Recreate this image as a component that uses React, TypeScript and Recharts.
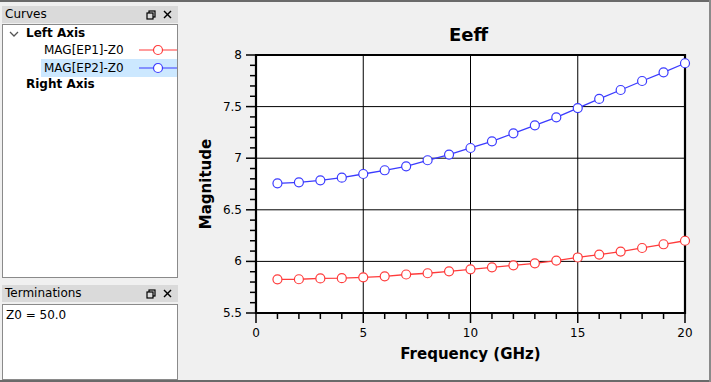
import { LineChart, Line, XAxis, YAxis, CartesianGrid, ReferenceLine, ReferenceArea, Label } from "recharts";

const freqs = [1, 2, 3, 4, 5, 6, 7, 8, 9, 10, 11, 12, 13, 14, 15, 16, 17, 18, 19, 20];
const ep1 = [5.826, 5.827, 5.835, 5.837, 5.846, 5.855, 5.873, 5.885, 5.904, 5.923, 5.943, 5.962, 5.981, 6.008, 6.038, 6.066, 6.095, 6.13, 6.166, 6.2];
const ep2 = [6.757, 6.766, 6.786, 6.811, 6.847, 6.883, 6.921, 6.98, 7.035, 7.099, 7.164, 7.241, 7.319, 7.396, 7.486, 7.574, 7.661, 7.748, 7.832, 7.92];

const xTicks = [0, 1, 2, 3, 4, 5, 6, 7, 8, 9, 10, 11, 12, 13, 14, 15, 16, 17, 18, 19, 20];
const xMajor = [0, 5, 10, 15, 20];
const yTicks = [5.5, 5.6, 5.7, 5.8, 5.9, 6, 6.1, 6.2, 6.3, 6.4, 6.5, 6.6, 6.7, 6.8, 6.9, 7, 7.1, 7.2, 7.3, 7.4, 7.5, 7.6, 7.7, 7.8, 7.9, 8];
const yMajor = [5.5, 6, 6.5, 7, 7.5, 8];
const yGrid = [6, 6.5, 7, 7.5];
const xGrid = [5, 10, 15];

const data = freqs.map((f, i) => ({ f, ep1: ep1[i], ep2: ep2[i] }));

const RED = "#ff3b3b";
const BLUE = "#3b3bff";
const UI_FONT = "Tahoma, 'DejaVu Sans', sans-serif";

function isMajor(list: number[], v: number) {
  return list.some((m) => Math.abs(m - v) < 1e-6);
}

function XTick({ x, y, payload }: any) {
  const major = isMajor(xMajor, payload.value);
  return (
    <g>
      <line x1={x} x2={x} y1={y} y2={y + (major ? 10 : 6)} stroke="#000" strokeWidth={1.5} />
      {major && (
        <text x={x} y={y + 24} textAnchor="middle" fontSize={12} fill="#000" fontFamily={UI_FONT}>
          {payload.value}
        </text>
      )}
    </g>
  );
}

function YTick({ x, y, payload }: any) {
  const major = isMajor(yMajor, payload.value);
  return (
    <g>
      <line x1={x - (major ? 10 : 6)} x2={x} y1={y} y2={y} stroke="#000" strokeWidth={1.5} />
      {major && (
        <text x={x - 14} y={y + 4} textAnchor="end" fontSize={12} fill="#000" fontFamily={UI_FONT}>
          {payload.value}
        </text>
      )}
    </g>
  );
}

function PanelHeader({ title, top }: { title: string; top: number }) {
  return (
    <div
      style={{
        position: "absolute",
        left: 2,
        top,
        width: 176,
        height: 17,
        background: "#dadada",
        fontSize: 12,
        lineHeight: "17px",
        paddingLeft: 3,
        boxSizing: "border-box",
        color: "#000",
      }}
    >
      {title}
      <svg width={30} height={17} style={{ position: "absolute", right: 3, top: 0 }}>
        <rect x={4} y={5} width={6} height={6} fill="none" stroke="#000" strokeWidth={1.2} />
        <rect x={2} y={7} width={6} height={6} fill="#dadada" stroke="#000" strokeWidth={1.2} />
        <line x1={19} y1={5} x2={26} y2={12} stroke="#000" strokeWidth={1.4} />
        <line x1={26} y1={5} x2={19} y2={12} stroke="#000" strokeWidth={1.4} />
      </svg>
    </div>
  );
}

function LegendSample({ color }: { color: string }) {
  return (
    <svg width={38} height={12}>
      <line x1={0} x2={38} y1={6} y2={6} stroke={color} strokeWidth={1.2} />
      <circle cx={19} cy={6} r={4.5} fill="#fff" stroke={color} strokeWidth={1.2} />
    </svg>
  );
}

export default function App() {
  return (
    <div
      style={{
        position: "fixed",
        left: 0,
        top: 0,
        width: 711,
        height: 382,
        background: "#f0f0f0",
        fontFamily: UI_FONT,
        overflow: "hidden",
      }}
    >
      <div style={{ position: "absolute", left: 0, top: 0, width: 711, height: 2, background: "#6a6a6a" }} />
      <div style={{ position: "absolute", left: 0, top: 380, width: 711, height: 2, background: "#6a6a6a" }} />
      <div style={{ position: "absolute", left: 709, top: 0, width: 2, height: 382, background: "#8a8a8a" }} />

      <PanelHeader title="Curves" top={6} />
      <div
        style={{
          position: "absolute",
          left: 2,
          top: 24,
          width: 176,
          height: 254,
          background: "#fff",
          border: "1px solid #8a8a8a",
          boxSizing: "border-box",
          fontSize: 12,
          color: "#000",
        }}
      >
        <svg width={10} height={8} style={{ position: "absolute", left: 6, top: 6 }}>
          <polyline points="1,1 5,5 9,1" fill="none" stroke="#555" strokeWidth={1.3} />
        </svg>
        <div style={{ position: "absolute", left: 23, top: 1, fontWeight: "bold" }}>Left Axis</div>
        <div style={{ position: "absolute", left: 39, top: 17, width: 135, height: 17 }}>
          <span style={{ position: "absolute", left: 2, top: 1 }}>MAG[EP1]-Z0</span>
          <span style={{ position: "absolute", left: 97, top: 2 }}>
            <LegendSample color={RED} />
          </span>
        </div>
        <div style={{ position: "absolute", left: 38, top: 34, width: 136, height: 18, background: "#cce8ff" }}>
          <span style={{ position: "absolute", left: 3, top: 2 }}>MAG[EP2]-Z0</span>
          <span style={{ position: "absolute", left: 98, top: 3 }}>
            <LegendSample color={BLUE} />
          </span>
        </div>
        <div style={{ position: "absolute", left: 23, top: 52, fontWeight: "bold" }}>Right Axis</div>
      </div>

      <PanelHeader title="Terminations" top={285} />
      <div
        style={{
          position: "absolute",
          left: 2,
          top: 304,
          width: 176,
          height: 76,
          background: "#fff",
          border: "1px solid #8a8a8a",
          boxSizing: "border-box",
          fontSize: 12,
          color: "#000",
          padding: "3px 0 0 3px",
        }}
      >
        Z0 = 50.0
      </div>

      <div
        style={{
          position: "absolute",
          left: 190,
          top: 24,
          width: 521,
          textAlign: "center",
          paddingLeft: 36,
          boxSizing: "border-box",
          fontSize: 18,
          fontWeight: "bold",
          color: "#000",
        }}
      >
        Eeff
      </div>

      <div style={{ position: "absolute", left: 190, top: 0 }}>
        <LineChart width={519} height={382} data={data} margin={{ top: 55, right: 24, left: 0, bottom: 0 }}>
          <CartesianGrid fill="#fff" horizontal={false} vertical={false} />
          {yGrid.map((v) => (
            <ReferenceLine key={`y${v}`} y={v} stroke="#000" strokeWidth={1} />
          ))}
          {xGrid.map((v) => (
            <ReferenceLine key={`x${v}`} x={v} stroke="#000" strokeWidth={1} />
          ))}
          <XAxis
            dataKey="f"
            type="number"
            domain={[0, 20]}
            ticks={xTicks}
            interval={0}
            height={69}
            axisLine={false}
            tickLine={false}
            tickSize={0}
            tickMargin={0}
            tick={<XTick />}
          >
            <Label
              value="Frequency (GHz)"
              position="insideBottom"
              offset={23}
              style={{ fontSize: 15, fontWeight: "bold", fill: "#000", fontFamily: UI_FONT }}
            />
          </XAxis>
          <YAxis
            type="number"
            domain={[5.5, 8]}
            ticks={yTicks}
            interval={0}
            width={66}
            axisLine={false}
            tickLine={false}
            tickSize={0}
            tickMargin={0}
            tick={<YTick />}
          >
            <Label
              value="Magnitude"
              angle={-90}
              position="insideLeft"
              offset={16}
              style={{ fontSize: 15, fontWeight: "bold", fill: "#000", fontFamily: UI_FONT, textAnchor: "middle" }}
            />
          </YAxis>
          <Line
            dataKey="ep1"
            stroke={RED}
            strokeWidth={1.3}
            dot={{ r: 4.5, fill: "#fff", stroke: RED, strokeWidth: 1.2 }}
            isAnimationActive={false}
          />
          <Line
            dataKey="ep2"
            stroke={BLUE}
            strokeWidth={1.3}
            dot={{ r: 4.5, fill: "#fff", stroke: BLUE, strokeWidth: 1.2 }}
            isAnimationActive={false}
          />
          <ReferenceArea x1={0} x2={20} y1={5.5} y2={8} fill="none" stroke="#000" strokeWidth={2.2} />
        </LineChart>
      </div>
    </div>
  );
}
